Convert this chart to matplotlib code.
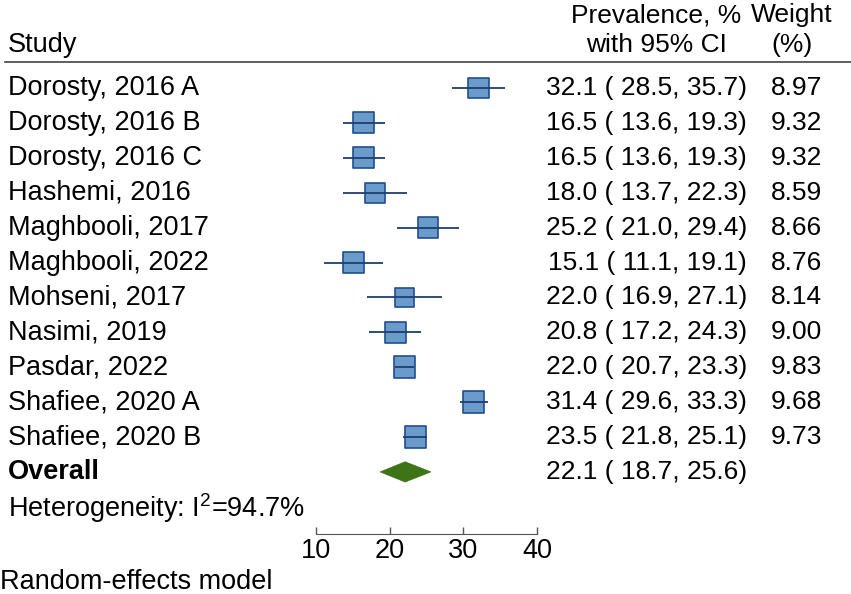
import matplotlib
matplotlib.use('Agg')
import matplotlib.pyplot as plt
import matplotlib.transforms as mtransforms
from matplotlib.patches import Polygon
import numpy as np

plt.rcParams['font.family'] = ['Liberation Sans', 'DejaVu Sans']
plt.rcParams['mathtext.default'] = 'regular'

# data
studies = ['Dorosty, 2016 A', 'Dorosty, 2016 B', 'Dorosty, 2016 C', 'Hashemi, 2016',
           'Maghbooli, 2017', 'Maghbooli, 2022', 'Mohseni, 2017', 'Nasimi, 2019',
           'Pasdar, 2022', 'Shafiee, 2020 A', 'Shafiee, 2020 B']
prev = [32.1, 16.5, 16.5, 18.0, 25.2, 15.1, 22.0, 20.8, 22.0, 31.4, 23.5]
lower = [28.5, 13.6, 13.6, 13.7, 21.0, 11.1, 16.9, 17.2, 20.7, 29.6, 21.8]
upper = [35.7, 19.3, 19.3, 22.3, 29.4, 19.1, 27.1, 24.3, 23.3, 33.3, 25.1]
weights = [8.97, 9.32, 9.32, 8.59, 8.66, 8.76, 8.14, 9.00, 9.83, 9.68, 9.73]
overall = (22.1, 18.7, 25.6)
i2 = 94.7
xticks = [10, 20, 30, 40]

W, H = 851, 594
fig = plt.figure(figsize=(W / 100, H / 100), dpi=100)

# forest panel: x 10..40 between pixels 316 and 537, rows every ~35 px
x0, x1 = 316, 537
row0, dy = 88, 34.9
ax = fig.add_axes([x0 / W, 0, (x1 - x0) / W, 1])
ax.set_xlim(10, 40)
ax.set_ylim((H - row0) / dy, -row0 / dy)

def yrow(py):
    return (py - row0) / dy

n = len(studies)
rows = np.arange(n)
box_col = '#6b9bc9'
edge_col = '#1f4f8f'
line_col = '#1d3f73'
diam_col = '#3f7318'

side_px = 6.9 * np.sqrt(np.array(weights))
ax.scatter(prev, rows, marker='s', s=(side_px * 0.72) ** 2, facecolor=box_col,
           edgecolor=edge_col, linewidths=1.2, zorder=3)
ax.hlines(rows, lower, upper, color=line_col, lw=1.3, zorder=4)

yo = n
hh = 0.29
ax.add_patch(Polygon([(overall[1], yo), (overall[0], yo - hh), (overall[2], yo),
                      (overall[0], yo + hh)], closed=True, facecolor=diam_col,
                     edgecolor=diam_col, lw=0.5, zorder=3))

for s in ['top', 'left', 'right']:
    ax.spines[s].set_visible(False)
ax.spines['bottom'].set_position(('data', yrow(534)))
ax.spines['bottom'].set_bounds(10, 40)
ax.spines['bottom'].set_color('#555555')
ax.set_yticks([])
ax.set_xticks(xticks)
ax.tick_params(axis='x', direction='in', length=5, width=1, colors='#555555',
               labelcolor='black', labelsize=19.5, pad=3)
ax.patch.set_visible(False)

# text columns
tr = mtransforms.blended_transform_factory(fig.transFigure, ax.transData)
fs = 19.5
kw = dict(transform=tr, fontsize=fs, va='center', clip_on=False)
kwn = dict(kw, fontsize=19)

ax.text(8 / W, yrow(45), 'Study', ha='left', **kw)
ax.text(656 / W, yrow(15), 'Prevalence, %', ha='center', **kwn)
ax.text(656 / W, yrow(45), 'with 95% CI', ha='center', **kwn)
ax.text(792 / W, yrow(15), 'Weight', ha='center', **kwn)
ax.text(792 / W, yrow(45), '(%)', ha='center', **kwn)
ax.plot([5 / W, 1], [yrow(62), yrow(62)], transform=tr, color='#444444', lw=1.2,
        clip_on=False)

for i in range(n):
    ax.text(8 / W, i, studies[i], ha='left', **kw)
    ax.text(747 / W, i, f'{prev[i]:.1f} ( {lower[i]:.1f}, {upper[i]:.1f})', ha='right', **kwn)
    ax.text(822 / W, i, f'{weights[i]:.2f}', ha='right', **kwn)

ax.text(8 / W, yo, 'Overall', ha='left', fontweight='bold', **kw)
ax.text(747 / W, yo, f'{overall[0]:.1f} ( {overall[1]:.1f}, {overall[2]:.1f})', ha='right', **kwn)
ax.text(8 / W, yrow(508), 'Heterogeneity: I$^{2}$=%.1f%%' % i2, ha='left', **kw)
ax.text(0 / W, yrow(582), 'Random-effects model', ha='left', **kw)

fig.savefig('out.png', dpi=100, facecolor='white')
